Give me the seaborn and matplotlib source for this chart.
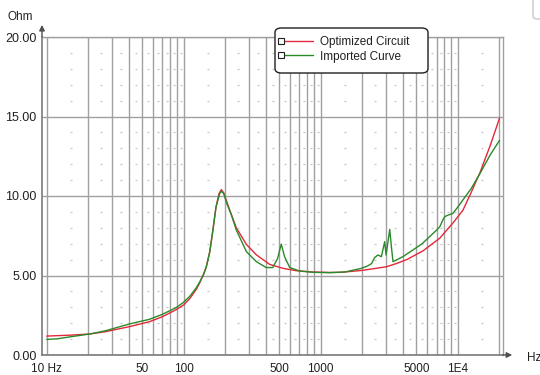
import numpy as np
import pandas as pd
import matplotlib
matplotlib.use("Agg")
import matplotlib.pyplot as plt
import seaborn as sns
from matplotlib.legend_handler import HandlerLine2D
from matplotlib.lines import Line2D
from matplotlib.patches import FancyBboxPatch
from matplotlib.ticker import FixedLocator, NullFormatter

# Impedance of the optimized equivalent circuit (Hz, Ohm)
freq_opt = [10, 15, 20.6, 27, 40, 56, 70, 88, 100, 111, 124, 131, 140, 146, 155,
            163, 172, 181, 188, 196, 207, 217, 242, 287, 339, 424, 531, 664, 880,
            1160, 1400, 2000, 2400, 3020, 3560, 4250, 5580, 7400, 9220, 10900,
            12500, 14060, 14500, 17300, 20200]
ohm_opt = [1.19, 1.25, 1.32, 1.47, 1.78, 2.09, 2.41, 2.85, 3.15, 3.56, 4.15, 4.55,
           5.1, 5.55, 6.5, 7.8, 9.3, 10.15, 10.4, 10.2, 9.6, 9.1, 8.0, 6.95, 6.3,
           5.7, 5.45, 5.3, 5.22, 5.19, 5.2, 5.32, 5.42, 5.55, 5.75, 6.0, 6.55,
           7.35, 8.3, 9.1, 10.2, 11.2, 11.45, 13.2, 14.9]

# Measured impedance curve imported from file (Hz, Ohm)
freq_imp = [10, 12, 15, 20.6, 27, 40, 56, 70, 88, 99, 111, 124, 131, 140, 146, 155,
            163, 172, 183, 188, 196, 207, 223, 242, 287, 339, 400, 447, 485,
            515, 545, 594, 703, 880, 1160, 1500, 1980, 2200, 2350, 2480, 2620,
            2770, 2930, 3000, 3190, 3280, 3370, 3560, 4000, 4700, 5500, 6230,
            7000, 7400, 7800, 8050, 8500, 9200, 10000, 10900, 12500, 14060,
            14500, 17300, 20200]
ohm_imp = [0.98, 1.02, 1.15, 1.32, 1.53, 1.95, 2.24, 2.56, 2.98, 3.29, 3.7, 4.25,
           4.6, 5.1, 5.5, 6.5, 7.8, 9.3, 10.15, 10.3, 10.15, 9.5, 8.8, 7.86, 6.5,
           5.87, 5.5, 5.5, 6.08, 6.98, 6.18, 5.5, 5.28, 5.2, 5.18, 5.22, 5.45,
           5.6, 5.75, 6.14, 6.29, 6.18, 7.13, 6.29, 7.9, 6.8, 5.87, 5.97, 6.2,
           6.6, 7.0, 7.44, 7.85, 8.07, 8.5, 8.7, 8.8, 8.9, 9.3, 9.75, 10.45,
           11.2, 11.4, 12.6, 13.5]

series_names = ["Optimized Circuit", "Imported Curve"]
series_colors = ["#e2283a", "#2a8a2a"]

x_tick_values = [10, 50, 100, 500, 1000, 5000, 10000]
x_tick_labels = ["10 Hz", "50", "100", "500", "1000", "5000", "1E4"]
y_tick_values = [0, 5, 10, 15, 20]
y_tick_labels = ["0.00", "5.00", "10.00", "15.00", "20.00"]

df = pd.concat([
    pd.DataFrame({"freq": freq_opt, "ohm": ohm_opt, "series": series_names[0]}),
    pd.DataFrame({"freq": freq_imp, "ohm": ohm_imp, "series": series_names[1]}),
], ignore_index=True)

sns.set_theme(style="white")
plt.rcParams["font.family"] = ["Liberation Sans", "DejaVu Sans"]

W, H = 540, 375
fig = plt.figure(figsize=(W / 100, H / 100), dpi=100)
fig.patch.set_facecolor("white")
ax = fig.add_axes([42 / W, 1 - 355 / H, (503 - 42) / W, (355 - 37) / H])

sns.lineplot(data=df, x="freq", y="ohm", hue="series", hue_order=series_names,
             palette=dict(zip(series_names, series_colors)), estimator=None,
             sort=False, linewidth=1.0, legend=False, ax=ax, zorder=5)

ax.set_xscale("log")
ax.set_xlim(9.24, 21400)
ax.set_ylim(0, 20)
ax.set_xlabel("")
ax.set_ylabel("")

# vertical grid at every 1..9 x 10^n, labels only at selected frequencies
grid_x = [m * 10 ** e for e in range(1, 5) for m in range(1, 10) if m * 10 ** e <= 20000]
ax.xaxis.set_major_locator(FixedLocator(x_tick_values))
ax.set_xticklabels(x_tick_labels)
ax.xaxis.set_minor_locator(FixedLocator(grid_x))
ax.xaxis.set_minor_formatter(NullFormatter())
ax.set_yticks(y_tick_values)
ax.set_yticklabels(y_tick_labels)
ax.grid(True, which="both", axis="x", color="#a0a0a0", linewidth=1.0)
ax.grid(True, which="major", axis="y", color="#a0a0a0", linewidth=1.0)
ax.tick_params(which="both", length=0, labelcolor="#202020")
ax.tick_params(axis="x", pad=6, labelsize=8.5)
ax.tick_params(axis="y", pad=4, labelsize=9)

# faint dotted sub-grid at the half steps and each whole Ohm
dot_x = [m * 10 ** e for e in range(1, 5) for m in np.arange(1.5, 10, 1.0)
         if m * 10 ** e <= 20000]
dot_y = [v for v in range(1, 20) if v % 5]
gx, gy = np.meshgrid(dot_x, dot_y)
ax.plot(gx.ravel(), gy.ravel(), linestyle="none", marker="_", markersize=2.0,
        markeredgewidth=0.9, color="#c4c4c4", zorder=1)

for side in ["top", "right"]:
    ax.spines[side].set_color("#a0a0a0")
    ax.spines[side].set_linewidth(1.0)
for side in ["left", "bottom"]:
    ax.spines[side].set_color("#7a7a7a")
    ax.spines[side].set_linewidth(1.2)

arrow = dict(arrowstyle="-|>", color="#505050", lw=1.0, mutation_scale=8,
             shrinkA=0, shrinkB=0)
ax.annotate("", xy=(0, 1.038), xytext=(0, 1.0), xycoords="axes fraction",
            textcoords="axes fraction", arrowprops=arrow, annotation_clip=False)
ax.annotate("", xy=(1.02, 0), xytext=(1.0, 0), xycoords="axes fraction",
            textcoords="axes fraction", arrowprops=arrow, annotation_clip=False)

fig.text(20 / W, 1 - 17 / H, "Ohm", ha="center", va="center", fontsize=8.5,
         color="#202020")
fig.text(527 / W, 1 - 358 / H, "Hz", ha="left", va="center", fontsize=8.5,
         color="#202020")


class StartMarkerHandler(HandlerLine2D):
    """Legend line with its marker box at the left end."""

    def create_artists(self, legend, orig_handle, xdescent, ydescent, width,
                       height, fontsize, trans):
        artists = super().create_artists(legend, orig_handle, xdescent, ydescent,
                                         width, height, fontsize, trans)
        for a in artists:
            if a.get_marker() not in (None, "None", ""):
                a.set_markevery([0])
        return artists


handles = [Line2D([], [], color=c, lw=1.0, marker="s", markersize=5,
                  markerfacecolor="white", markeredgecolor="#202020",
                  markeredgewidth=0.8) for c in series_colors]

fig.patches.append(FancyBboxPatch((275 / W, 1 - 73 / H), 153 / W, 45 / H,
                                  boxstyle="round,pad=0,rounding_size=0.012",
                                  transform=fig.transFigure, facecolor="white",
                                  edgecolor="#202020", linewidth=1.0, zorder=10))
leg = fig.legend(handles, series_names, loc="upper left",
                 bbox_to_anchor=(281 / W, 1 - 36 / H), frameon=False,
                 fontsize=8.5, handlelength=2.75, handletextpad=0.55,
                 labelspacing=0.22, borderpad=0, borderaxespad=0,
                 handler_map={Line2D: StartMarkerHandler()})
leg.set_zorder(11)
for t in leg.get_texts():
    t.set_color("#202020")

# small rounded control in the top right corner
fig.patches.append(FancyBboxPatch((533 / W, 1 - 19 / H), 20 / W, 30 / H,
                                  boxstyle="round,pad=0,rounding_size=0.008",
                                  transform=fig.transFigure, facecolor="white",
                                  edgecolor="#c8c8c8", linewidth=1.0))

fig.savefig("out.png", dpi=100, facecolor="white")
